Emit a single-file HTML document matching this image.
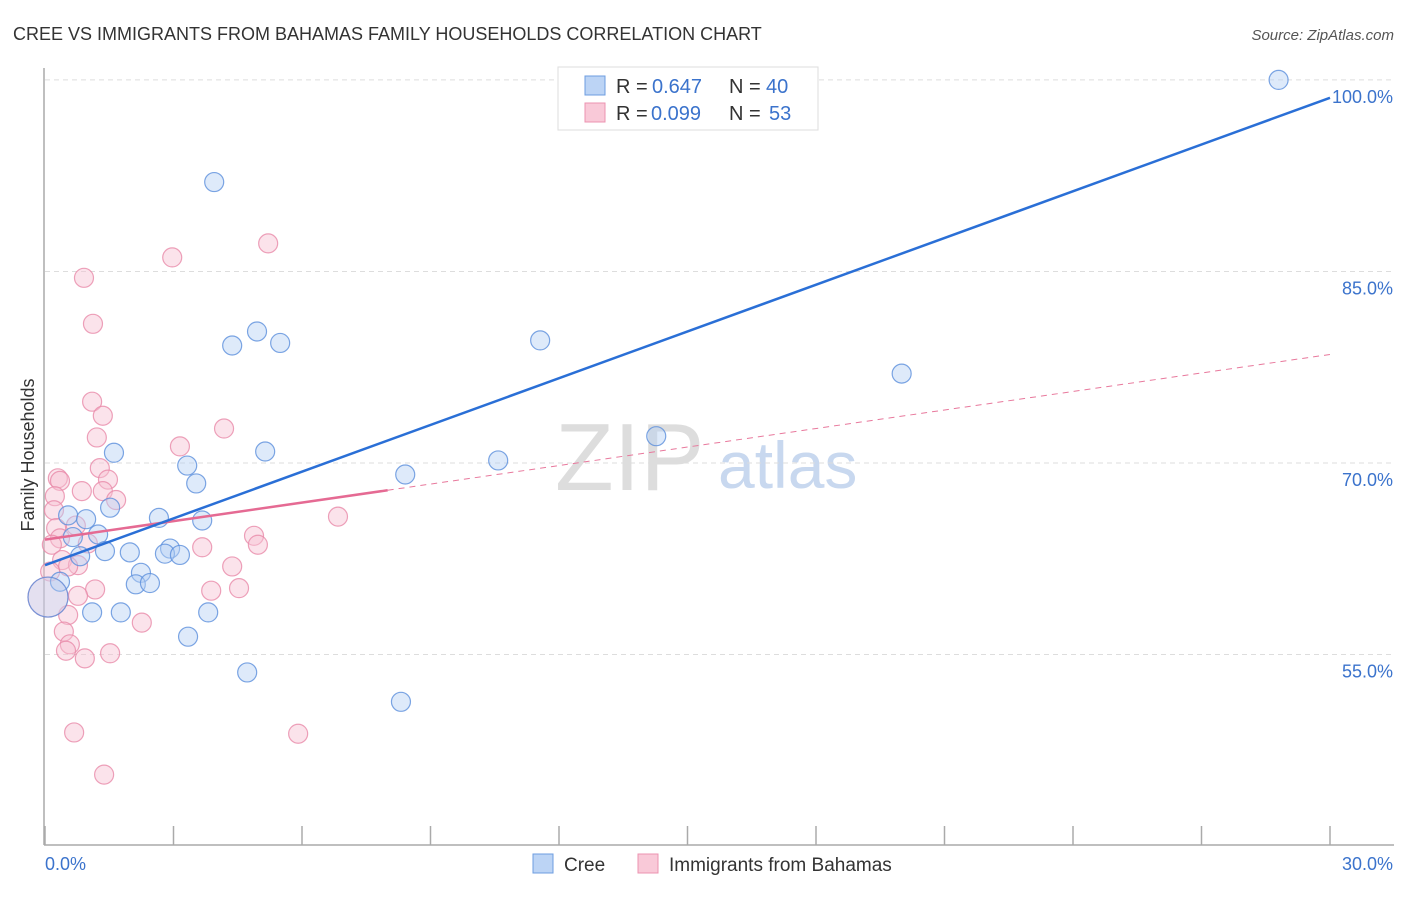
<!DOCTYPE html>
<html><head><meta charset="utf-8"><style>
body{margin:0;background:#fff;font-family:"Liberation Sans",sans-serif;}
svg text{font-family:"Liberation Sans",sans-serif;}
</style></head><body>
<svg id="chart" width="1406" height="892" xmlns="http://www.w3.org/2000/svg">
<text x="13" y="40" font-size="18" fill="#333">CREE VS IMMIGRANTS FROM BAHAMAS FAMILY HOUSEHOLDS CORRELATION CHART</text>
<text x="1394" y="40" font-size="15" fill="#555" text-anchor="end" font-style="italic">Source: ZipAtlas.com</text>
<g>
<text x="555" y="490" font-size="96" font-family="Liberation Serif" fill="#ddd">ZIP</text>
<text x="718" y="488" font-size="66" fill="#c8d8ef">atlas</text>
</g>
<g id="grid"></g>
<g id="axes"></g>
<g id="marks"></g>
<text transform="translate(34,455) rotate(-90)" font-size="18" fill="#333" text-anchor="middle">Family Households</text>
<g>
<rect x="558" y="67" width="260" height="63" fill="#fff" stroke="#ddd"/>
<rect x="585" y="76" width="20" height="19" fill="#bcd4f5" stroke="#6d9de0"/>
<rect x="585" y="103" width="20" height="19" fill="#f9c9d8" stroke="#ec93b0"/>
<text x="616" y="93" font-size="20" fill="#333">R =</text>
<text x="652" y="93" font-size="20" fill="#3b73cc">0.647</text>
<text x="729" y="93" font-size="20" fill="#333">N =</text>
<text x="766" y="93" font-size="20" fill="#3b73cc">40</text>
<text x="616" y="120" font-size="20" fill="#333">R =</text>
<text x="651" y="120" font-size="20" fill="#3b73cc">0.099</text>
<text x="729" y="120" font-size="20" fill="#333">N =</text>
<text x="769" y="120" font-size="20" fill="#3b73cc">53</text>
</g>
<g>
<rect x="533" y="854" width="20" height="19" fill="#bcd4f5" stroke="#6d9de0"/>
<text x="564" y="871" font-size="19" fill="#333">Cree</text>
<rect x="638" y="854" width="20" height="19" fill="#f9c9d8" stroke="#ec93b0"/>
<text x="669" y="871" font-size="19" fill="#333">Immigrants from Bahamas</text>
</g>
</svg>
<script>
const creeX=[3.95,13.7,28.8,4.95,4.37,5.49,11.56,20.0,14.27,5.14,3.32,10.58,8.41,1.61,3.53,1.52,0.54,0.96,2.66,3.67,1.24,0.65,1.40,1.98,2.92,2.80,3.15,0.82,2.24,2.12,2.45,0.35,1.10,1.77,3.81,3.34,4.72,8.31,0.07];
const creeY=[92.0,100.0,100.0,80.3,79.2,79.4,79.6,77.0,72.1,70.9,69.8,70.2,69.1,70.8,68.4,66.5,65.9,65.6,65.7,65.5,64.4,64.2,63.1,63.0,63.3,62.9,62.8,62.7,61.4,60.5,60.6,60.7,58.3,58.3,58.3,56.4,53.6,51.3,59.5];
const bahX=[2.97,5.21,0.91,1.12,1.10,1.35,4.18,1.21,3.15,1.28,0.30,0.35,1.47,0.86,1.35,0.23,1.66,0.21,0.72,6.84,0.26,4.88,0.35,0.16,1.0,4.97,3.67,0.40,0.77,0.54,4.37,0.12,1.17,4.53,3.88,0.77,0.54,2.26,0.44,0.58,0.49,1.52,0.93,0.68,5.91,1.38,0.07];
const bahY=[86.1,87.2,84.5,80.9,74.8,73.7,72.7,72.0,71.3,69.6,68.8,68.6,68.7,67.8,67.8,67.4,67.1,66.3,65.1,65.8,64.9,64.3,64.1,63.6,63.7,63.6,63.4,62.4,62.0,61.9,61.9,61.5,60.1,60.2,60.0,59.6,58.1,57.5,56.8,55.8,55.3,55.1,54.7,48.9,48.8,45.6,59.5];
const bigIdxCree=38, bigIdxBah=46;
const creeLine=[62.0,98.6];
const bahLine=[64.0,78.5];
const bahSolidEnd=8.0;
const yTicks=[55,70,85,100];
const xTickLabels=["0.0%","30.0%"];
const NS="http://www.w3.org/2000/svg";
const X0=45,X1=1330,Y70=463,YS=12.77;
const sx=v=>X0+(v/30)*(X1-X0);
const sy=v=>Y70-(v-70)*YS;
function mk(parent,tag,attrs){const e=document.createElementNS(NS,tag);for(const k in attrs)e.setAttribute(k,attrs[k]);parent.appendChild(e);return e;}
const grid=document.getElementById('grid'),axes=document.getElementById('axes'),marks=document.getElementById('marks');
yTicks.forEach(t=>{
 const l=mk(grid,'line',{x1:45,x2:1394,y1:sy(t),y2:sy(t),stroke:'#ddd','stroke-dasharray':'5,4'});
 
 
 const tx=mk(axes,'text',{x:1393,y:sy(t)+23,'font-size':18,fill:'#3b73cc','text-anchor':'end'});
 tx.textContent=t.toFixed(1)+'%';
 
 
});
const ya=mk(axes,'line',{x1:44,x2:44,y1:68,y2:845,stroke:'#aaa','stroke-width':1.5});


const xa=mk(axes,'line',{x1:44,x2:1394,y1:845,y2:845,stroke:'#aaa','stroke-width':1.5});


for(let i=0;i<=10;i++){
 const t=mk(axes,'line',{x1:sx(i*3),x2:sx(i*3),y1:826,y2:845,stroke:'#aaa','stroke-width':1.5});
 
 
}
const xl0=mk(axes,'text',{x:45,y:870,'font-size':18,fill:'#3b73cc'});xl0.textContent=xTickLabels[0];


const xl1=mk(axes,'text',{x:1393,y:870,'font-size':18,fill:'#3b73cc','text-anchor':'end'});xl1.textContent=xTickLabels[1];


function pts(xs,ys,big,fill,stroke,name){
 xs.forEach((x,i)=>{
  const c=mk(marks,'circle',{cx:sx(x),cy:sy(ys[i]),r:i===big?20:9.5,fill:fill,'fill-opacity':i===big?0.35:0.45,stroke:stroke,'stroke-opacity':0.8,'stroke-width':1.2});
  
  
 });
}
pts(bahX,bahY,bigIdxBah,'#f7c0d2','#e88aa9','bahamas-point');
pts(creeX,creeY,bigIdxCree,'#b6d0f3','#5b8fdc','cree-point');
const bd=mk(marks,'line',{x1:sx(bahSolidEnd),y1:sy(bahLine[0]+(bahLine[1]-bahLine[0])*bahSolidEnd/30),x2:sx(30),y2:sy(bahLine[1]),stroke:'#e8789c','stroke-width':1,'stroke-dasharray':'6,5'});


const bs=mk(marks,'line',{x1:sx(0),y1:sy(bahLine[0]),x2:sx(bahSolidEnd),y2:sy(bahLine[0]+(bahLine[1]-bahLine[0])*bahSolidEnd/30),stroke:'#e56a93','stroke-width':2.5});


const cl=mk(marks,'line',{x1:sx(0),y1:sy(creeLine[0]),x2:sx(30),y2:sy(creeLine[1]),stroke:'#2a6fd6','stroke-width':2.5});


</script>
</body></html>
